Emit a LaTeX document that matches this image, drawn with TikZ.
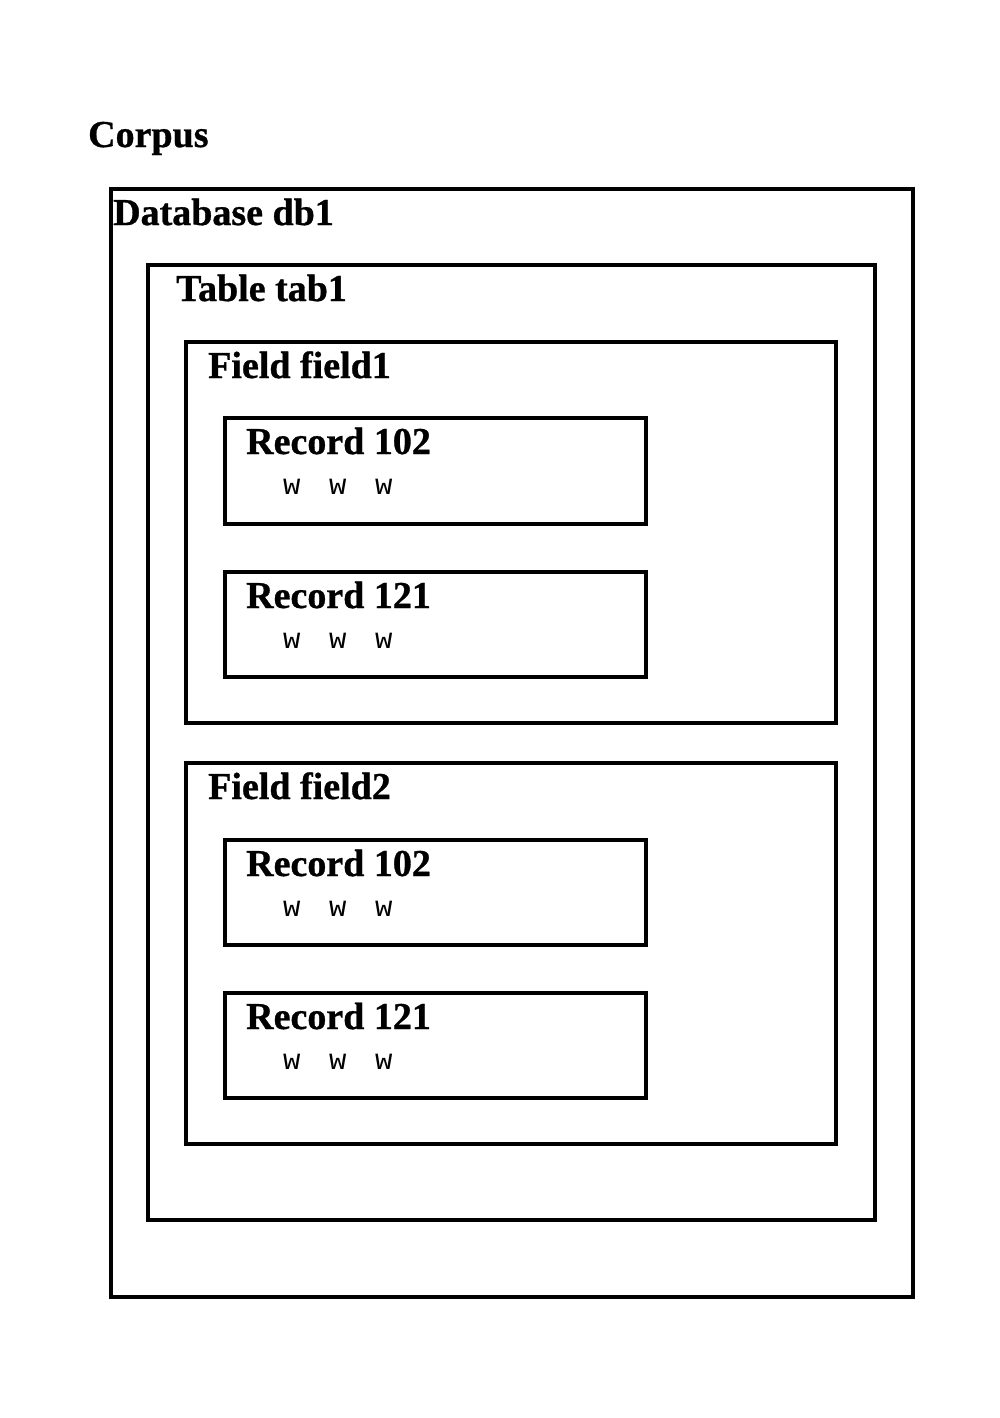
\documentclass[tikz,border=0pt]{standalone}
\usepackage{fontspec}
\setmainfont{Liberation Serif}[BoldFeatures={FakeBold=0.8}]
\setmonofont{Liberation Mono}
\begin{document}
\begin{tikzpicture}[x=1pt,y=-1pt,
  box/.style={draw=black,line width=3.6pt},
  lbl/.style={anchor=base west,inner sep=0pt,font=\fontsize{38}{40}\selectfont\bfseries},
  words/.style={anchor=base west,inner sep=0pt,font=\fontsize{29}{32}\selectfont\ttfamily}]
\newcommand\wwwtext{w\hspace{28.6pt}w\hspace{28.6pt}w}
\useasboundingbox (0,0) rectangle (1000,1418);
% Corpus
\node[lbl] (corpus) at (88,147) {Corpus};
% Database
\draw[box] (111,189) rectangle (913,1297);
\node[lbl] (db) at (113,225) {Database db1};
% Table
\draw[box] (148,265) rectangle (875,1220);
\node[lbl] (tab) at (176,301) {Table tab1};
% Field 1
\draw[box] (186,342) rectangle (836,723);
\node[lbl] (f1) at (208,378) {Field field1};
\draw[box] (225,418) rectangle (646,524);
\node[lbl] (r1a) at (246,454) {Record 102};
\node[words] (w1a) at (283,494) {\wwwtext};
\draw[box] (225,572) rectangle (646,677);
\node[lbl] (r1b) at (246,608) {Record 121};
\node[words] (w1b) at (283,648) {\wwwtext};
% Field 2
\draw[box] (186,763) rectangle (836,1144);
\node[lbl] (f2) at (208,799) {Field field2};
\draw[box] (225,840) rectangle (646,945);
\node[lbl] (r2a) at (246,876) {Record 102};
\node[words] (w2a) at (283,916) {\wwwtext};
\draw[box] (225,993) rectangle (646,1098);
\node[lbl] (r2b) at (246,1029) {Record 121};
\node[words] (w2b) at (283,1069) {\wwwtext};
\end{tikzpicture}
\end{document}
